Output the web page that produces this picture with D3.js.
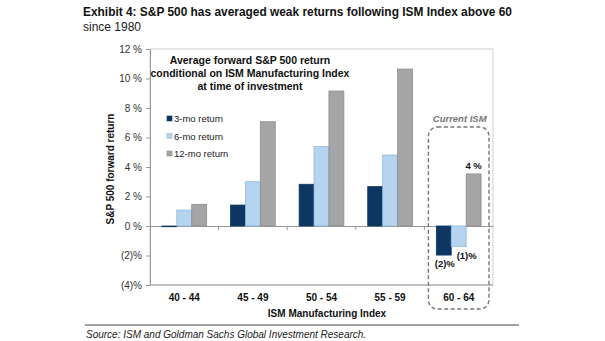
<!DOCTYPE html>
<html>
  <head>
    <script src="https://d3js.org/d3.v7.min.js"></script>
    <style>
      body { margin: 0; background: #fff; }
      svg { font-family: "Liberation Sans", Arial, sans-serif; }
      .ytick text { font-size: 10px; fill: #333; }
      .xlab { font-size: 10px; font-weight: bold; fill: #111; }
    </style>
  </head>
  <body>
    <svg width="605" height="341"></svg>
    <script>
      const categories = ["40 - 44", "45 - 49", "50 - 54", "55 - 59", "60 - 64"];
      const seriesNames = ["3-mo return", "6-mo return", "12-mo return"];
      const ret3 = [-0.05, 1.42, 2.83, 2.67, -1.97];
      const ret6 = [1.08, 3.0, 5.38, 4.81, -1.4];
      const ret12 = [1.47, 7.07, 9.15, 10.64, 3.53];
      const yTicks = [-4, -2, 0, 2, 4, 6, 8, 10, 12];
      const colors = ["#0d3762", "#b5d4f0", "#a5a5a5"];
      const strokes = ["#0d3762", "#8fb6dc", "#8c8c8c"];

      const svg = d3.select("svg");
      const plotL = 150, plotR = 493, plotT = 49, plotB = 285;

      const x = d3.scaleBand().domain(categories).range([plotL, plotR]);
      const xs = d3.scaleBand().domain(seriesNames).range([0, x.bandwidth()]).paddingInner(0).paddingOuter(0.8);
      const y = d3.scaleLinear().domain([-4, 12]).range([plotB, plotT]);

      const fmt = v => v < 0 ? `(${-v})%` : `${v} %`;

      // title
      svg.append("text").attr("x", 83).attr("y", 16)
        .attr("font-size", 13).attr("font-weight", "bold").attr("fill", "#111")
        .attr("textLength", 429).attr("lengthAdjust", "spacingAndGlyphs")
        .text("Exhibit 4: S&P 500 has averaged weak returns following ISM Index above 60");
      svg.append("text").attr("x", 83).attr("y", 31)
        .attr("font-size", 12).attr("fill", "#222")
        .text("since 1980");

      // plot frame
      svg.append("rect").attr("x", plotL).attr("y", plotT)
        .attr("width", plotR - plotL).attr("height", plotB - plotT)
        .attr("fill", "none").attr("stroke", "#d0d0d0");

      // y axis
      const yAxis = d3.axisLeft(y).tickValues(yTicks).tickFormat(fmt).tickSize(4).tickSizeOuter(0).tickPadding(4);
      const yg = svg.append("g").attr("class", "ytick").attr("transform", `translate(${plotL},0)`).call(yAxis);
      yg.select(".domain").attr("stroke", "#999");
      yg.selectAll(".tick line").attr("stroke", "#999");

      // bottom line
      svg.append("line").attr("x1", plotL).attr("x2", plotR).attr("y1", plotB).attr("y2", plotB)
        .attr("stroke", "#999");

      // zero axis with category ticks
      const xAxis = d3.axisBottom(x).tickSize(0).tickSizeOuter(0).tickFormat("");
      const xg = svg.append("g").attr("transform", `translate(0,${y(0)})`).call(xAxis);
      xg.select(".domain").attr("stroke", "#999");
      xg.selectAll(".bnd").data(categories.slice(1)).enter().append("line")
        .attr("x1", d => x(d)).attr("x2", d => x(d)).attr("y1", 0).attr("y2", 4)
        .attr("stroke", "#999");

      // category labels
      svg.selectAll(".xlab").data(categories).enter().append("text")
        .attr("class", "xlab").attr("text-anchor", "middle")
        .attr("x", d => x(d) + x.bandwidth() / 2).attr("y", 301)
        .text(d => d);

      // bars
      const series = [ret3, ret6, ret12];
      series.forEach((vals, si) => {
        svg.append("g").selectAll("rect").data(vals).enter().append("rect")
          .attr("x", (d, i) => x(categories[i]) + xs(seriesNames[si]))
          .attr("width", xs.bandwidth())
          .attr("y", d => y(Math.max(0, d)))
          .attr("height", d => Math.abs(y(d) - y(0)))
          .attr("fill", colors[si])
          .attr("stroke", strokes[si]).attr("stroke-width", 0.8);
      });

      // axis titles
      svg.append("text").attr("transform", `translate(114,${(plotT + plotB) / 2 + 2}) rotate(-90)`)
        .attr("text-anchor", "middle").attr("font-size", 10).attr("font-weight", "bold").attr("fill", "#111")
        .text("S&P 500 forward return");
      svg.append("text").attr("x", 327).attr("y", 317).attr("text-anchor", "middle")
        .attr("font-size", 10).attr("font-weight", "bold").attr("fill", "#111")
        .text("ISM Manufacturing Index");

      // annotation title
      const ann = ["Average forward S&P 500 return", "conditional on ISM Manufacturing Index", "at time of investment"];
      svg.selectAll(".ann").data(ann).enter().append("text")
        .attr("x", 250).attr("y", (d, i) => 64 + i * 13).attr("text-anchor", "middle")
        .attr("font-size", 10.5).attr("font-weight", "bold").attr("fill", "#111")
        .text(d => d);

      // legend
      const lg = svg.append("g").attr("transform", "translate(167,122)");
      seriesNames.forEach((s, i) => {
        lg.append("rect").attr("x", 0).attr("y", i * 17.5 - 6).attr("width", 5).attr("height", 5)
          .attr("fill", colors[i]).attr("stroke", strokes[i]).attr("stroke-width", 0.6);
        lg.append("text").attr("x", 7).attr("y", i * 17.5).attr("font-size", 9.5).attr("fill", "#222").text(s);
      });

      // current ISM box
      const cur = categories[4];
      svg.append("rect").attr("x", x(cur) + 4).attr("y", 127)
        .attr("width", x.bandwidth() - 8).attr("height", 182)
        .attr("rx", 9).attr("fill", "none").attr("stroke", "#777")
        .attr("stroke-width", 1.4).attr("stroke-dasharray", "4,2.5");
      svg.append("text").attr("x", x(cur) + x.bandwidth() / 2 + 1).attr("y", 122)
        .attr("text-anchor", "middle").attr("font-size", 9.5).attr("font-style", "italic")
        .attr("font-weight", "bold").attr("fill", "#777").text("Current ISM");

      // value labels for current ISM
      const li = 4;
      svg.append("text").attr("x", x(cur) + xs(seriesNames[2]) + xs.bandwidth() / 2).attr("y", y(ret12[li]) - 5)
        .attr("text-anchor", "middle").attr("font-size", 9.5).attr("font-weight", "bold").attr("fill", "#111")
        .text(`${Math.round(ret12[li])} %`);
      svg.append("text").attr("x", x(cur) + xs(seriesNames[0]) + xs.bandwidth() / 2 + 1).attr("y", y(ret3[li]) + 12)
        .attr("text-anchor", "middle").attr("font-size", 9.5).attr("font-weight", "bold").attr("fill", "#111")
        .text(`(${Math.round(-ret3[li])})%`);
      svg.append("text").attr("x", x(cur) + xs(seriesNames[1]) + xs.bandwidth() / 2 + 8).attr("y", y(ret6[li]) + 12)
        .attr("text-anchor", "middle").attr("font-size", 9.5).attr("font-weight", "bold").attr("fill", "#111")
        .text(`(${Math.round(-ret6[li])})%`);

      // source
      svg.append("line").attr("x1", 85).attr("x2", 519).attr("y1", 325).attr("y2", 325)
        .attr("stroke", "#444").attr("stroke-width", 1);
      svg.append("text").attr("x", 86).attr("y", 338).attr("font-size", 10).attr("font-style", "italic")
        .attr("fill", "#222").text("Source: ISM and Goldman Sachs Global Investment Research.");
    </script>
  </body>
</html>
